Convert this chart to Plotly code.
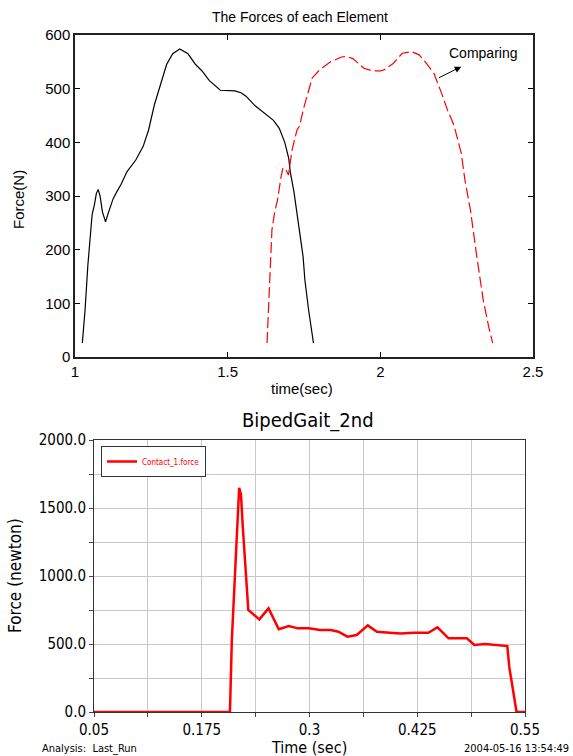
import plotly.graph_objects as go

# ---- Top chart data ----
black_t = [1.024, 1.033, 1.042, 1.048, 1.056, 1.064, 1.070, 1.076, 1.082, 1.090, 1.100, 1.110,
           1.125, 1.139, 1.151, 1.170, 1.199, 1.223, 1.241, 1.260, 1.283, 1.300, 1.320, 1.343,
           1.370, 1.395, 1.416, 1.440, 1.476, 1.500, 1.524, 1.545, 1.560, 1.590, 1.620, 1.650,
           1.669, 1.687, 1.700, 1.705, 1.717, 1.735, 1.747, 1.753, 1.765, 1.781]
black_f = [26, 88, 170, 218, 265, 285, 305, 312, 300, 270, 252, 270,
           295, 310, 322, 345, 367, 392, 423, 470, 516, 545, 565, 574,
           565, 545, 533, 515, 497, 496, 496, 492, 486, 468, 454, 441,
           426, 400, 370, 345, 308, 237, 187, 143, 88, 26]

red_t = [1.629, 1.634, 1.639, 1.645, 1.654, 1.663, 1.675, 1.681, 1.690, 1.699, 1.711, 1.727,
         1.735, 1.750, 1.777, 1.801, 1.837, 1.873, 1.890, 1.910, 1.946, 1.976, 2.000, 2.012,
         2.042, 2.072, 2.102, 2.127, 2.151, 2.175, 2.199, 2.220, 2.241, 2.265, 2.277, 2.295,
         2.316, 2.337, 2.355, 2.368]
red_f = [26, 100, 168, 237, 270, 292, 336, 352, 350, 339, 386, 423,
         430, 466, 520, 535, 550, 559, 560, 556, 538, 533, 533, 535,
         547, 566, 569, 563, 547, 529, 494, 460, 432, 380, 330, 274,
         187, 106, 56, 26]

top_xticks = [1, 1.5, 2, 2.5]
top_xticklabels = ["1", "1.5", "2", "2.5"]
top_yticks = [0, 100, 200, 300, 400, 500, 600]

# ---- Bottom chart data ----
contact_t = [0.05, 0.2077, 0.2099, 0.214, 0.2184, 0.2205, 0.2226, 0.229, 0.2418, 0.2525,
             0.2644, 0.2759, 0.2866, 0.2994, 0.3122, 0.325, 0.3335, 0.3441, 0.3548, 0.3676,
             0.3782, 0.3931, 0.4059, 0.4208, 0.4379, 0.4485, 0.4613, 0.4826, 0.4912, 0.504,
             0.5168, 0.5295, 0.5317, 0.5402, 0.55]
contact_f = [0, 0, 529, 1100, 1649, 1600, 1362, 750, 681, 762,
             608, 632, 615, 615, 603, 603, 590, 554, 566, 637,
             590, 583, 578, 583, 583, 623, 542, 542, 493, 500,
             493, 485, 333, 0, 0]

bot_xticks = [0.05, 0.1125, 0.175, 0.2375, 0.3, 0.3625, 0.425, 0.4875, 0.55]
bot_xticklabels = ["0.05", "", "0.175", "", "0.3", "", "0.425", "", "0.55"]
bot_yticks = [0, 250, 500, 750, 1000, 1250, 1500, 1750, 2000]
bot_yticklabels = ["0.0", "", "500.0", "", "1000.0", "", "1500.0", "", "2000.0"]

W, H = 573, 756
def px(x): return x / W
def py(y): return 1 - y / H

TOPFONT = "Liberation Sans, Arial, sans-serif"
BOTFONT = "Liberation Sans Narrow, Arial Narrow, DejaVu Sans Condensed, Liberation Sans, Arial, sans-serif"

fig = go.Figure()
fig.add_trace(go.Scatter(x=black_t, y=black_f, mode="lines", line=dict(color="black", width=1.2),
                         xaxis="x", yaxis="y", showlegend=False))
fig.add_trace(go.Scatter(x=red_t, y=red_f, mode="lines",
                         line=dict(color="red", width=1.2, dash="11px,4px"),
                         xaxis="x", yaxis="y", showlegend=False))
fig.add_trace(go.Scatter(x=contact_t, y=contact_f, mode="lines", name="Contact_1.force",
                         line=dict(color="#ff0000", width=2.5), xaxis="x2", yaxis="y2",
                         showlegend=True))

fig.update_layout(
    width=W, height=H, margin=dict(l=0, r=0, t=0, b=0, autoexpand=False),
    paper_bgcolor="white", plot_bgcolor="white",
    font=dict(family=TOPFONT, color="black"),
    xaxis=dict(domain=[px(75), px(533)], anchor="y", range=[1, 2.5], automargin=False,
               tickvals=top_xticks, ticktext=top_xticklabels,
               ticks="inside", ticklen=5, tickcolor="black", showline=True, linecolor="#222",
               linewidth=1.5, mirror="ticks", showgrid=False, zeroline=False,
               tickfont=dict(size=15, family=TOPFONT)),
    yaxis=dict(domain=[py(357), py(35)], anchor="x", range=[0, 600], automargin=False,
               tickvals=top_yticks, ticks="inside", ticklen=5, tickcolor="black",
               showline=True, linecolor="#222", linewidth=1.5, mirror="ticks",
               showgrid=False, zeroline=False, tickfont=dict(size=15, family=TOPFONT)),
    xaxis2=dict(domain=[px(94), px(525)], anchor="y2", range=[0.05, 0.55], automargin=False,
                tickvals=bot_xticks, ticktext=bot_xticklabels,
                ticks="outside", ticklen=4, tickcolor="#444",
                showline=True, linecolor="#333", linewidth=1, mirror=True,
                showgrid=True, gridcolor="#c8c8c8", gridwidth=1, zeroline=False,
                tickfont=dict(size=15, family=BOTFONT)),
    yaxis2=dict(domain=[py(712), py(440)], anchor="x2", range=[0, 2000], automargin=False,
                tickvals=bot_yticks, ticktext=bot_yticklabels,
                ticks="outside", ticklen=4, tickcolor="#444",
                showline=True, linecolor="#333", linewidth=1, mirror=True,
                showgrid=True, gridcolor="#c8c8c8", gridwidth=1, zeroline=False,
                tickfont=dict(size=15, family=BOTFONT)),
    legend=dict(x=px(101), y=py(446), xanchor="left", yanchor="top",
                bgcolor="white", bordercolor="#333", borderwidth=1,
                font=dict(size=8, color="red", family=BOTFONT),
                itemwidth=30, tracegroupgap=0),
)

def label(text, x, y, size, family, angle=0, xa="center"):
    return dict(text=text, x=px(x), y=py(y), xref="paper", yref="paper", xanchor=xa,
                yanchor="middle", textangle=angle, showarrow=False,
                font=dict(size=size, family=family, color="black"))

ann = [
    label("The Forces of each Element", 300, 17, 14, TOPFONT),
    label("time(sec)", 302, 388, 15, TOPFONT),
    label("Force(N)", 18, 200, 15, TOPFONT, angle=-90),
    label("Comparing", 483, 53, 14, TOPFONT),
    dict(text="", x=2.265, y=541, ax=2.187, ay=519, xref="x", yref="y", axref="x", ayref="y",
         showarrow=True, arrowhead=2, arrowsize=1.3, arrowwidth=1, arrowcolor="black"),
    label("BipedGait_2nd", 308, 420, 20, BOTFONT),
    label("Force (newton)", 15, 576, 17, BOTFONT, angle=-90),
    label("Time (sec)", 309, 747, 16, BOTFONT),
    label("Analysis:  Last_Run", 40, 748, 11, BOTFONT, xa="left"),
    label("2004-05-16 13:54:49", 571, 748, 11, BOTFONT, xa="right"),
]
fig.update_layout(annotations=ann)

fig.write_html("out.html", config={"displayModeBar": False},
               post_script="document.body.style.margin='0';")
